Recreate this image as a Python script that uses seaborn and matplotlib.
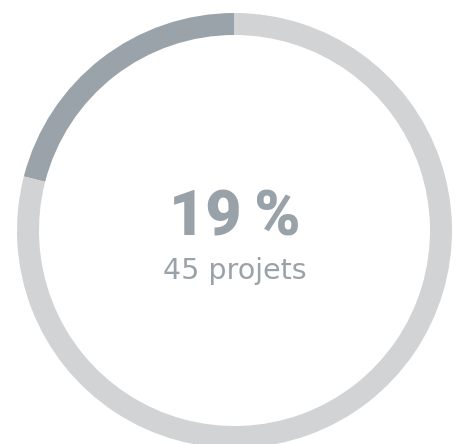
import matplotlib
matplotlib.use("Agg")
import matplotlib.pyplot as plt
import seaborn as sns

# Data
segments = ["Projets", "Autres"]
shares = [21, 79]           # arc share as drawn
label_pct = "19\u2009%"
label_sub = "45 projets"
colors = ["#9ba3aa", "#d1d3d5"]
text_color = "#9aa2a9"

sns.set_theme(style="white")
W, H = 458, 444
fig = plt.figure(figsize=(W / 100, H / 100), dpi=100)
ax = fig.add_axes([0, 0, 1, 1])
cx, cy, R = 234.5, 230.5, 217.5
ax.axis("off")

ax.pie(shares, colors=colors, startangle=90, counterclock=True, radius=1,
       wedgeprops=dict(width=22 / R, linewidth=0), frame=False)
ax.set_aspect("equal", adjustable="box")
ax.set_xlim(-cx / R, (W - cx) / R)
ax.set_ylim(-(H - cy) / R, cy / R)

ax.text(0, (cy - 235) / R, label_pct, ha="center", va="baseline",
        fontsize=45, fontweight=900, color=text_color,
        family=["Roboto", "DejaVu Sans"])
ax.text(0, (cy - 279) / R, label_sub, ha="center", va="baseline",
        fontsize=20.5, fontweight="normal", color=text_color,
        family=["DejaVu Sans"])

fig.savefig("out.png", dpi=100, facecolor="white")
